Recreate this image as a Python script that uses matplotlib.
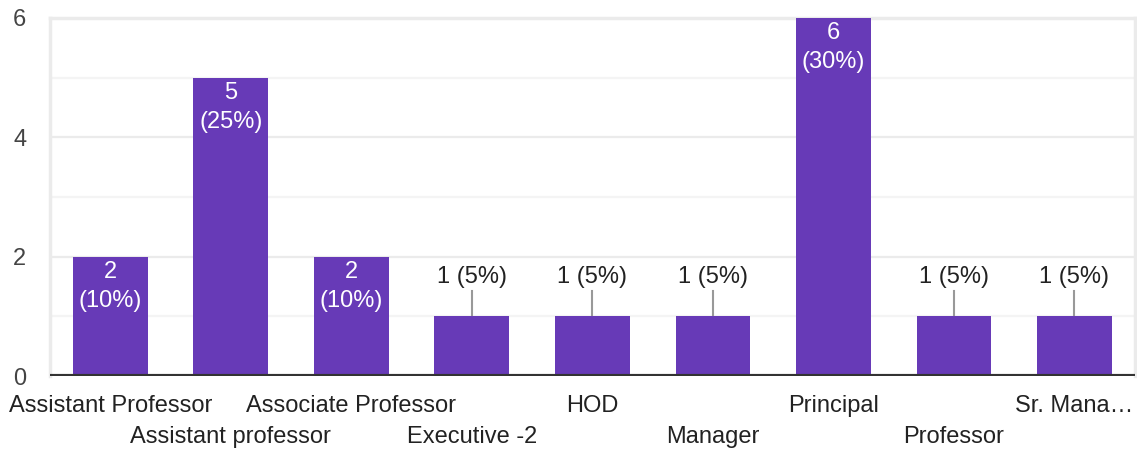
import matplotlib.pyplot as plt

plt.rcParams["font.family"] = ["Liberation Sans", "DejaVu Sans"]

categories = [
    "Assistant Professor",
    "Assistant professor",
    "Associate Professor",
    "Executive -2",
    "HOD",
    "Manager",
    "Principal",
    "Professor",
    "Sr. Mana…",
]
counts = [2, 5, 2, 1, 1, 1, 6, 1, 1]
y_ticks = [0, 2, 4, 6]

BAR = "#673ab7"
FS = 17
total = sum(counts)

fig = plt.figure(figsize=(11.37, 4.5), dpi=100)
ax = fig.add_axes([0.044, 0.1644, 0.954, 0.7956])

x = list(range(len(categories)))
ax.bar(x, counts, width=0.62, color=BAR, zorder=3)

# grid: even lines a bit darker than odd lines
for v in range(0, 7):
    ax.axhline(v, color="#ebebeb" if v % 2 == 0 else "#f4f4f4", lw=1.6, zorder=1)
ax.axhline(0, color="#333333", lw=3, zorder=4)

for i, c in enumerate(counts):
    pct = round(100 * c / total)
    if c >= 2:
        ax.annotate(f"{c}\n({pct}%)", (i, c), xytext=(0, -3), textcoords="offset points",
                    ha="center", va="top", color="white", fontsize=FS, linespacing=1.4,
                    zorder=5)
    else:
        ax.plot([i, i], [c + 0.03, c + 0.42], color="#999999", lw=1.5, zorder=4)
        ax.text(i, c + 0.66, f"{c} ({pct}%)", ha="center", va="center",
                color="#222222", fontsize=FS, zorder=5)

ax.set_xlim(-0.5, len(categories) - 0.5)
ax.set_ylim(0, 6)
ax.set_yticks(y_ticks)
ax.set_yticklabels([str(t) for t in y_ticks], fontsize=FS, color="#444444")
ax.tick_params(axis="y", length=0, pad=17)
ax.set_xticks([])

for i, name in enumerate(categories):
    ax.text(i, -0.5 if i % 2 == 0 else -1.02, name, ha="center", va="center",
            fontsize=FS, color="#222222", clip_on=False)

for side in ["top", "left", "right"]:
    ax.spines[side].set_color("#ebebeb")
    ax.spines[side].set_linewidth(2.5)
ax.spines["bottom"].set_visible(False)

fig.savefig("out.png", dpi=100)
